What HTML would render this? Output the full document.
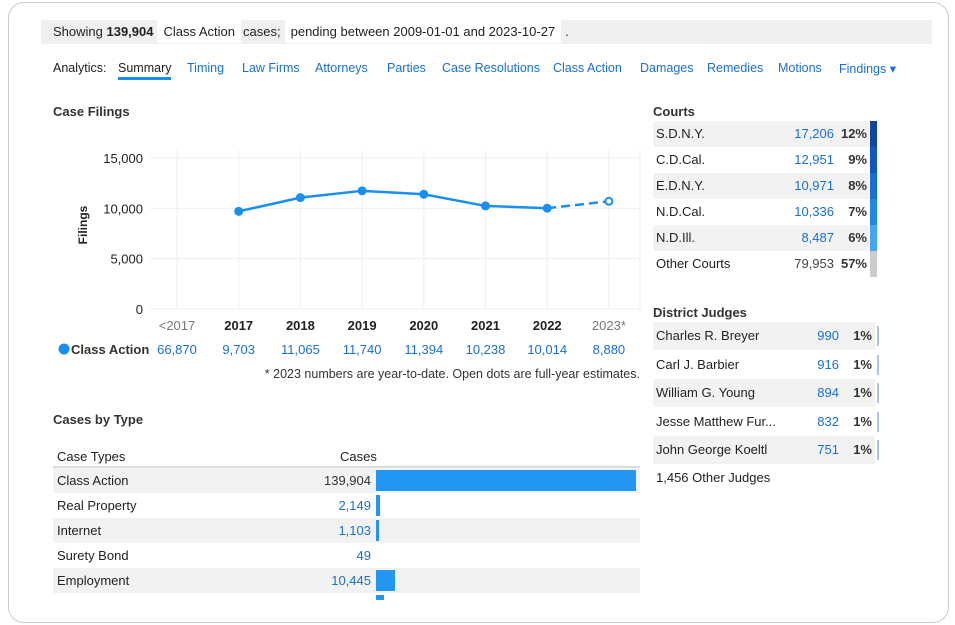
<!DOCTYPE html>
<html><head><meta charset="utf-8"><style>
body{margin:0;width:955px;height:625px;background:#fff;font-family:"Liberation Sans",sans-serif;color:#222;position:relative;overflow:hidden}
.a{position:absolute;white-space:nowrap}
.card{position:absolute;left:8px;top:2px;width:939px;height:619px;border:1px solid #ccc;border-radius:16px}
.nav{font-size:12.5px;color:#1a6fd1}
.chip{background:#fff;padding:4px 6px}
</style></head><body>
<div class="card"></div>
<div class="a" style="left:41px;top:20px;width:891px;height:24px;background:#efefef;font-size:13px;line-height:24px">
 <span style="margin-left:12px">Showing <b>139,904</b></span><span class="chip" style="margin-left:4px">Class Action</span><span style="margin-left:2px;margin-right:4px">cases;</span><span class="chip">pending between 2009-01-01 and 2023-10-27</span><span style="margin-left:4px">.</span>
</div>
<div class="a" style="left:53px;top:61px;font-size:12.5px">Analytics:</div>
<div class="a nav" style="left:118px;top:61px;color:#222;border-bottom:3px solid #1a8ff0;padding-bottom:2px">Summary</div>
<div class="a nav" style="left:187px;top:61px">Timing</div>
<div class="a nav" style="left:242px;top:61px">Law Firms</div>
<div class="a nav" style="left:315px;top:61px">Attorneys</div>
<div class="a nav" style="left:387px;top:61px">Parties</div>
<div class="a nav" style="left:442px;top:61px">Case Resolutions</div>
<div class="a nav" style="left:553px;top:61px">Class Action</div>
<div class="a nav" style="left:640px;top:61px">Damages</div>
<div class="a nav" style="left:707px;top:61px">Remedies</div>
<div class="a nav" style="left:778px;top:61px">Motions</div>
<div class="a nav" style="left:839px;top:61px">Findings ▾</div>

<div class="a" style="left:53px;top:104px;font-size:13px;font-weight:bold;color:#333">Case Filings</div>
<svg class="a" style="left:0;top:0" width="955" height="625" id="chart"></svg>
<div class="a" style="right:315px;top:367px;font-size:12.5px;color:#333">* 2023 numbers are year-to-date. Open dots are full-year estimates.</div>

<div class="a" style="left:53px;top:412px;font-size:13px;font-weight:bold;color:#333">Cases by Type</div>
<div class="a" style="left:57px;top:449px;font-size:13px">Case Types</div>
<div class="a" style="left:340px;top:449px;font-size:13px">Cases</div>
<div class="a" style="left:53px;top:466px;width:587px;height:2px;background:#ddd"></div>
<div id="types"></div>

<div class="a" style="left:653px;top:104px;font-size:13px;font-weight:bold;color:#333">Courts</div>
<div id="courts"></div>
<div class="a" style="left:653px;top:305px;font-size:13px;font-weight:bold;color:#333">District Judges</div>
<div id="judges"></div>
<div class="a" style="left:656px;top:470px;font-size:13px">1,456 Other Judges</div>

<script>
const years=['<2017','2017','2018','2019','2020','2021','2022','2023*'];
const filings=[66870,9703,11065,11740,11394,10238,10014,8880];
const plotted=[null,9703,11065,11740,11394,10238,10014,null];
const estimate2023=10700;
const yTicks=[0,5000,10000,15000];
const yTickLabels=['0','5,000','10,000','15,000'];

const typeNames=['Class Action','Real Property','Internet','Surety Bond','Employment'];
const typeCounts=[139904,2149,1103,49,10445];

const courtNames=['S.D.N.Y.','C.D.Cal.','E.D.N.Y.','N.D.Cal.','N.D.Ill.','Other Courts'];
const courtCounts=[17206,12951,10971,10336,8487,79953];
const courtPct=['12%','9%','8%','7%','6%','57%'];
const judgeNames=['Charles R. Breyer','Carl J. Barbier','William G. Young','Jesse Matthew Fur...','John George Koeltl'];
const judgeCounts=[990,916,894,832,751];
const judgePct=['1%','1%','1%','1%','1%'];

const NS='http://www.w3.org/2000/svg';
const svg=document.getElementById('chart');
const X=i=>177+i*61.7;
const Y=v=>309-v/15000*151;
function mk(t,at,txt){const e=document.createElementNS(NS,t);for(const k in at)e.setAttribute(k,at[k]);if(txt!=null)e.textContent=txt;svg.appendChild(e);return e;}
yTicks.forEach((v,i)=>{
 const l=mk('line',{x1:150,x2:640,y1:Y(v),y2:Y(v),stroke:'#eee'});
 
 
 const t=mk('text',{x:143,y:Y(v)+5,'text-anchor':'end','font-size':13,fill:'#222'},yTickLabels[i]);
 
 
});
years.forEach((y,i)=>{
 const l=mk('line',{x1:X(i),x2:X(i),y1:150,y2:309,stroke:'#eee'});
 
 
 const t=mk('text',{x:X(i),y:330,'text-anchor':'middle','font-size':13,'font-weight':(i==0||i==7)?'normal':'bold',fill:(i==0||i==7)?'#777':'#222'},y);
 
 
 const v=mk('text',{x:X(i),y:354,'text-anchor':'middle','font-size':13,fill:'#1a6fd1'},filings[i].toLocaleString('en-US'));
 
 
});
mk('line',{x1:640,x2:640,y1:150,y2:309,stroke:'#eee'});
const yl=mk('text',{transform:'translate(87,225) rotate(-90)','text-anchor':'middle','font-size':12,'font-weight':'bold',fill:'#222'},'Filings');


const lc=mk('circle',{cx:64,cy:349,r:5.5,fill:'#1a8ff0'});


const lt=mk('text',{x:71,y:354,'font-size':13,'font-weight':'bold',fill:'#333'},'Class Action');


let pts=[];plotted.forEach((v,i)=>{if(v!=null)pts.push([X(i),Y(v)]);});
const ln=mk('polyline',{points:pts.map(p=>p.join(',')).join(' '),fill:'none',stroke:'#1a8ff0','stroke-width':2.5});


const last=pts[pts.length-1];
const dl=mk('line',{x1:last[0],y1:last[1],x2:X(7),y2:Y(estimate2023),stroke:'#1a8ff0','stroke-width':2.5,'stroke-dasharray':'9,5'});


pts.forEach(p=>{const c=mk('circle',{cx:p[0],cy:p[1],r:4.5,fill:'#1a8ff0'});
 
 });
const oc=mk('circle',{cx:X(7),cy:Y(estimate2023),r:3.5,fill:'#fff',stroke:'#1a8ff0','stroke-width':2});



function div(parent,css,html){const d=document.createElement('div');d.className='a';d.style.cssText=css;if(html!=null)d.innerHTML=html;parent.appendChild(d);return d;}
const types=document.getElementById('types');
const maxT=Math.max(...typeCounts);
typeNames.forEach((n,i)=>{
 const top=468+i*25;
 if(i%2==0){div(types,`left:375px;top:${top}px;width:265px;height:25px;background:#f2f2f2`);}
 const r=div(types,`left:53px;top:${top}px;width:322px;height:25px;line-height:25px;font-size:13px;${i%2==0?'background:#f2f2f2;':''}`);
 
 
 div(r,'left:4px;top:0',n);
 div(r,`right:4px;top:0;color:${i==0?'#333':'#1a6fd1'}`,typeCounts[i].toLocaleString('en-US'));
 const w=typeCounts[i]/maxT*260;
 if(typeCounts[i]>500){const b=div(types,`left:376px;top:${top+2}px;width:${Math.max(3,w)}px;height:21px;background:#2196f3`);
 
 }
});
div(types,'left:376px;top:595px;width:8px;height:5px;background:#2196f3');

const courts=document.getElementById('courts');
const cColors=['#0d47a1','#1257c0','#1a6fd6','#1e88e5','#42a5f5','#cccccc'];
courtNames.forEach((n,i)=>{
 const top=121+i*26;
 const r=div(courts,`left:653px;top:${top}px;width:216px;height:26px;line-height:26px;font-size:13px;${i<5&&i%2==0?'background:#f2f2f2;':''}`);
 
 
 div(r,'left:3px;top:0',n);
 div(r,`right:35px;top:0;color:${i<5?'#1a6fd1':'#444'}`,courtCounts[i].toLocaleString('en-US'));
 div(r,'right:2px;top:0;font-weight:bold;color:#333',courtPct[i]);
 const s=div(courts,`left:870px;top:${top}px;width:7px;height:26px;background:${cColors[i]}`);
 
 
});
const judges=document.getElementById('judges');
judgeNames.forEach((n,i)=>{
 const top=322+i*28.5;
 const r=div(judges,`left:653px;top:${top}px;width:222px;height:28px;line-height:28px;font-size:13px;${i%2==0?'background:#f2f2f2;':''}`);
 
 
 div(r,'left:3px;top:0',n);
 div(r,'right:36px;top:0;color:#1a6fd1',judgeCounts[i].toLocaleString('en-US'));
 div(r,'right:3px;top:0;font-weight:bold;color:#333',judgePct[i]);
 div(judges,`left:877px;top:${top+4}px;width:2px;height:20px;background:#b0c4e8`);
});
</script>
</body></html>
